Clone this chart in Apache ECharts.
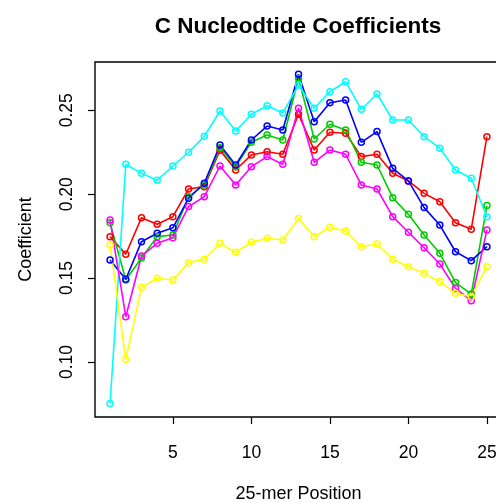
<!DOCTYPE html>
<html>
<head>
<meta charset="utf-8">
<script src="https://cdn.jsdelivr.net/npm/echarts@6/dist/echarts.min.js"></script>
<style>html,body{margin:0;padding:0;background:#fff}#c{width:496px;height:503px}</style>
</head>
<body>
<div id="c"></div>
<script>
var positions = [1,2,3,4,5,6,7,8,9,10,11,12,13,14,15,16,17,18,19,20,21,22,23,24,25];
var red     = [0.1747,0.1642,0.1860,0.1821,0.1866,0.2031,0.2045,0.2262,0.2144,0.2234,0.2253,0.2238,0.2476,0.2263,0.2369,0.2363,0.2224,0.2238,0.2125,0.2079,0.2005,0.1955,0.1830,0.1791,0.2343];
var green   = [0.1830,0.1489,0.1620,0.1747,0.1757,0.1985,0.2055,0.2277,0.2164,0.2309,0.2353,0.2323,0.2691,0.2329,0.2417,0.2383,0.2190,0.2174,0.1979,0.1880,0.1757,0.1648,0.1473,0.1405,0.1932];
var blue    = [0.1608,0.1493,0.1717,0.1767,0.1800,0.1976,0.2065,0.2293,0.2174,0.2323,0.2406,0.2383,0.2715,0.2432,0.2545,0.2561,0.2309,0.2373,0.2154,0.2079,0.1920,0.1816,0.1657,0.1604,0.1687];
var cyan    = [0.0752,0.2178,0.2125,0.2083,0.2168,0.2250,0.2345,0.2496,0.2377,0.2476,0.2527,0.2484,0.2650,0.2512,0.2611,0.2670,0.2506,0.2597,0.2442,0.2442,0.2343,0.2274,0.2144,0.2095,0.1866];
var magenta = [0.1846,0.1270,0.1632,0.1707,0.1741,0.1926,0.1985,0.2168,0.2055,0.2164,0.2224,0.2178,0.2512,0.2190,0.2263,0.2238,0.2055,0.2031,0.1866,0.1773,0.1681,0.1584,0.1439,0.1365,0.1787];
var yellow  = [0.1697,0.1016,0.1445,0.1499,0.1489,0.1592,0.1612,0.1707,0.1654,0.1713,0.1737,0.1727,0.1855,0.1747,0.1803,0.1781,0.1687,0.1703,0.1612,0.1568,0.1529,0.1479,0.1409,0.1389,0.1568];
var xTicks = [5,10,15,20,25];
var yTicks = [0.10,0.15,0.20,0.25];

var seriesDefs = [
  {name:'red', data:red, color:'#ff0000'},
  {name:'green', data:green, color:'#00cd00'},
  {name:'blue', data:blue, color:'#0000ff'},
  {name:'cyan', data:cyan, color:'#00ffff'},
  {name:'magenta', data:magenta, color:'#ff00ff'},
  {name:'yellow', data:yellow, color:'#ffff00'}
];
var FONT = '"Liberation Sans", Arial, sans-serif';
var chart = echarts.init(document.getElementById('c'), null, {renderer:'canvas'});
chart.setOption({
  animation:false,
  backgroundColor:'#fff',
  title:{text:'C Nucleodtide Coefficients', left:293, top:10, textAlign:'center',
    textStyle:{fontFamily:FONT, fontSize:22.5, fontWeight:'bold', color:'#000'}},
  grid:{left:95, right:-6, top:62, bottom:86, containLabel:false, outerBoundsMode:'none',
    show:true, borderColor:'#000', borderWidth:1.4, backgroundColor:'transparent'},
  xAxis:{type:'value', min:0.04, max:25.96,
    name:'25-mer Position', nameLocation:'middle', nameGap:68,
    nameTextStyle:{fontFamily:FONT, fontSize:18, color:'#000'},
    axisLine:{show:false}, splitLine:{show:false},
    axisTick:{show:true, length:7, lineStyle:{color:'#000', width:1.2}, customValues:xTicks},
    axisLabel:{fontFamily:FONT, fontSize:17.5, color:'#000', margin:27, customValues:xTicks}},
  yAxis:{type:'value', min:0.06722, max:0.27878,
    name:'Coefficient', nameLocation:'middle', nameGap:60, nameRotate:90,
    nameTextStyle:{fontFamily:FONT, fontSize:18, color:'#000'},
    axisLine:{show:false}, splitLine:{show:false},
    axisTick:{show:true, length:7, lineStyle:{color:'#000', width:1.2}, customValues:yTicks},
    axisLabel:{fontFamily:FONT, fontSize:17.5, color:'#000', margin:19, rotate:90,
      customValues:yTicks, formatter:function(v){return v.toFixed(2);}}},
  series: seriesDefs.map(function(s){
    return {type:'line', name:s.name,
      data: positions.map(function(p,i){return [p, s.data[i]];}),
      symbol:'circle', symbolSize:6, showSymbol:true,
      lineStyle:{color:s.color, width:1.6},
      itemStyle:{color:'rgba(0,0,0,0)', borderColor:s.color, borderWidth:1.5},
      emphasis:{disabled:true}};
  })
});
</script>
</body>
</html>
